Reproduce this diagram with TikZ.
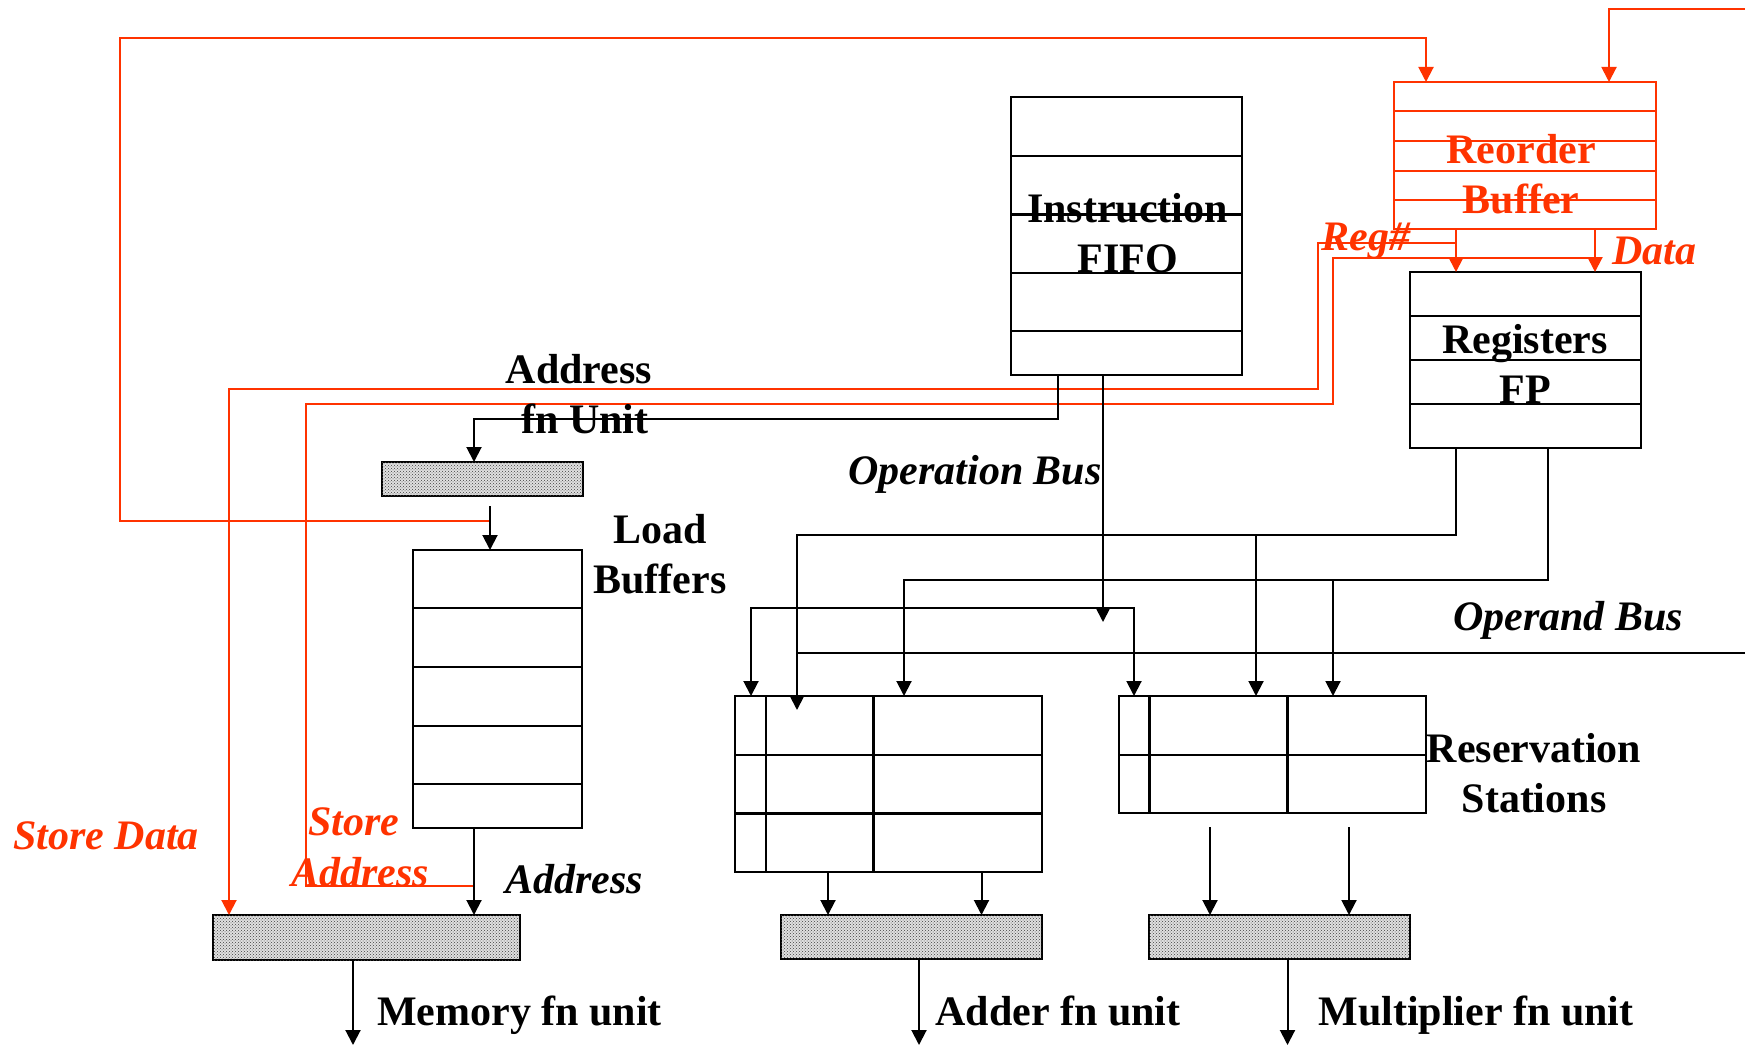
\documentclass[tikz,border=0pt]{standalone}
\usepackage{fontspec}
\setmainfont{Liberation Serif}
\usetikzlibrary{arrows.meta,patterns}
\definecolor{busred}{RGB}{255,51,0}
\begin{document}
\begin{tikzpicture}[x=1pt,y=-1pt,
  box/.style={draw, line width=2.4pt, inner sep=0, outer sep=0, anchor=north west},
  unitbox/.style={box, fill=black!12, postaction={pattern=crosshatch dots, pattern color=black!75}},
  wire/.style={line width=2pt},
  redwire/.style={line width=2pt, draw=busred},
  tip/.style={-{Triangle[length=15pt,width=15pt]}},
  twotip/.style={{Triangle[length=15pt,width=15pt]}-{Triangle[length=15pt,width=15pt]}},
  lbl/.style={inner sep=0, anchor=base, font=\fontsize{42}{50}\selectfont\bfseries},
  ilbl/.style={lbl, font=\fontsize{42}{50}\selectfont\bfseries\itshape},
  redlbl/.style={text=busred}]
\useasboundingbox (0,0) rectangle (1745,1046);

% ---------------- boxes ----------------
\node[box, draw=busred, minimum width=262pt, minimum height=147pt] (rob) at (1394,82) {};
\node[box, minimum width=231pt, minimum height=278pt] (fifo) at (1011,97) {};
\node[box, minimum width=231pt, minimum height=176pt] (regs) at (1410,272) {};
\node[unitbox, minimum width=201pt, minimum height=34pt] (addru) at (382,462) {};
\node[box, minimum width=169pt, minimum height=278pt] (loadbuf) at (413,550) {};
\node[unitbox, minimum width=307pt, minimum height=45pt] (mem) at (213,915) {};
\node[box, minimum width=307pt, minimum height=176pt] (rsadd) at (735,696) {};
\node[box, minimum width=307pt, minimum height=117pt] (rsmul) at (1119,696) {};
\node[unitbox, minimum width=261pt, minimum height=44pt] (addu) at (781,915) {};
\node[unitbox, minimum width=261pt, minimum height=44pt] (mulu) at (1149,915) {};

% row and column dividers
\foreach \y in {111.5,141,170.5,200}
  \draw[redwire] (rob.west |- 0,\y) -- (rob.east |- 0,\y);
\foreach \y in {156,214.5,273,331}
  \draw[line width=2.4pt] (fifo.west |- 0,\y) -- (fifo.east |- 0,\y);
\foreach \y in {316,360,404}
  \draw[line width=2.4pt] (regs.west |- 0,\y) -- (regs.east |- 0,\y);
\foreach \y in {608,667,726,784}
  \draw[line width=2.4pt] (loadbuf.west |- 0,\y) -- (loadbuf.east |- 0,\y);
\foreach \y in {755,813.5}
  \draw[line width=2.4pt] (rsadd.west |- 0,\y) -- (rsadd.east |- 0,\y);
\foreach \x in {766,873.5}
  \draw[line width=2.4pt] (rsadd.north -| \x,0) -- (rsadd.south -| \x,0);
\draw[line width=2.4pt] (rsmul.west |- 0,755) -- (rsmul.east |- 0,755);
\foreach \x in {1149.5,1287.5}
  \draw[line width=2.4pt] (rsmul.north -| \x,0) -- (rsmul.south -| \x,0);

% ---------------- red result paths ----------------
\coordinate (cdbin) at (1745,9);
\coordinate (lbtap) at (490,521);
\draw[redwire,tip] (cdbin) -| (rob.north -| 1609,0);
\draw[redwire,tip] (lbtap) -| (120,38) -| (rob.north -| 1426,0);
\draw[redwire,tip] (rob.south -| 1456,0) -- (regs.north -| 1456,0);
\draw[redwire,tip] (rob.south -| 1595,0) -- (regs.north -| 1595,0);
\draw[redwire,tip] (1456,243) -| (1318,389) -| (mem.north -| 229,0);
\draw[redwire] (1595,258) -| (1333,404) -| (305.5,886) -- (474,886);

% ---------------- black paths ----------------
\draw[wire,tip] (fifo.south -| 1058,0) |- (474,419) -- (addru.north -| 474,0);
\draw[wire,tip] (490,506) -- (loadbuf.north -| 490,0);
\draw[wire,tip] (loadbuf.south -| 474,0) -- (mem.north -| 474,0);
\draw[wire,tip] (mem.south -| 353,0) -- (353,1045);
% operation bus
\draw[wire,tip] (fifo.south -| 1103,0) -- (1103,622);
\draw[wire,twotip] (rsadd.north -| 751,0) |- (1134,608) -- (rsmul.north -| 1134,0);
% operand bus
\draw[wire,tip] (regs.south -| 1456,0) |- (797,535) -- (797,710);
\draw[wire,tip] (1256,535) -- (rsmul.north -| 1256,0);
\draw[wire,tip] (regs.south -| 1548,0) |- (904,580) -- (rsadd.north -| 904,0);
\draw[wire,tip] (1333,580) -- (rsmul.north -| 1333,0);
\draw[wire] (797,653) -- (1745,653);
% reservation stations to function units
\draw[wire,tip] (rsadd.south -| 828,0) -- (addu.north -| 828,0);
\draw[wire,tip] (rsadd.south -| 981.5,0) -- (addu.north -| 981.5,0);
\draw[wire,tip] (1210,827) -- (mulu.north -| 1210,0);
\draw[wire,tip] (1349,827) -- (mulu.north -| 1349,0);
\draw[wire,tip] (addu.south -| 919,0) -- (919,1045);
\draw[wire,tip] (mulu.south -| 1287.5,0) -- (1287.5,1045);

% ---------------- labels ----------------
\node[lbl,redlbl] (robA) at (1521,163) {Reorder};
\node[lbl,redlbl] (robB) at (1521,213) {Buffer};
\node[lbl] (fifoA) at (1127.5,222) {Instruction};
\node[lbl] (fifoB) at (1127.5,272) {FIFO};
\node[lbl] (regsA) at (1525,353) {Registers};
\node[lbl] (regsB) at (1525,403) {FP};
\node[lbl] (aguA) at (579,383) {Address};
\node[lbl] (aguB) at (585,433) {fn Unit};
\node[lbl] (lbA) at (660,543) {Load};
\node[lbl] (lbB) at (660,593) {Buffers};
\node[ilbl] (opbus) at (975,484) {Operation Bus};
\node[ilbl] (operand) at (1568,630) {Operand Bus};
\node[lbl] (rsA) at (1534,762) {Reservation};
\node[lbl] (rsB) at (1534,812) {Stations};
\node[ilbl,redlbl] (regnum) at (1366,250) {Reg\#};
\node[ilbl,redlbl] (datalbl) at (1654,264) {Data};
\node[ilbl,redlbl] (stdata) at (106,849) {Store Data};
\node[ilbl,redlbl] (staddrA) at (354,835) {Store};
\node[ilbl,redlbl] (staddrB) at (360,886) {Address};
\node[ilbl] (addrlbl) at (574,893) {Address};
\node[lbl] (memlbl) at (519.5,1025) {Memory fn unit};
\node[lbl] (addlbl) at (1058,1025) {Adder fn unit};
\node[lbl] (mullbl) at (1476,1025) {Multiplier fn unit};
\end{tikzpicture}
\end{document}
